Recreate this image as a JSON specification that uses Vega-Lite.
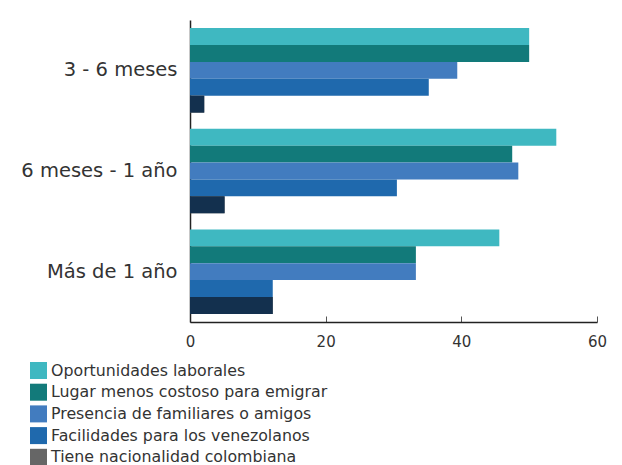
{
  "$schema": "https://vega.github.io/schema/vega-lite/v6.json",
  "autosize": {"type": "none"},
  "width": 407,
  "height": 302,
  "padding": {"left": 190, "top": 20, "right": 25, "bottom": 143},
  "background": "white",
  "config": {
    "font": "DejaVu Sans",
    "view": {"stroke": null}
  },
  "data": {
    "values": [
      {"periodo": "3 - 6 meses", "motivo": "Oportunidades laborales", "valor": 50.0},
      {"periodo": "3 - 6 meses", "motivo": "Lugar menos costoso para emigrar", "valor": 50.0},
      {"periodo": "3 - 6 meses", "motivo": "Presencia de familiares o amigos", "valor": 39.4},
      {"periodo": "3 - 6 meses", "motivo": "Facilidades para los venezolanos", "valor": 35.2},
      {"periodo": "3 - 6 meses", "motivo": "Tiene nacionalidad colombiana", "valor": 2.1},
      {"periodo": "6 meses - 1 año", "motivo": "Oportunidades laborales", "valor": 54.0},
      {"periodo": "6 meses - 1 año", "motivo": "Lugar menos costoso para emigrar", "valor": 47.5},
      {"periodo": "6 meses - 1 año", "motivo": "Presencia de familiares o amigos", "valor": 48.4},
      {"periodo": "6 meses - 1 año", "motivo": "Facilidades para los venezolanos", "valor": 30.5},
      {"periodo": "6 meses - 1 año", "motivo": "Tiene nacionalidad colombiana", "valor": 5.1},
      {"periodo": "Más de 1 año", "motivo": "Oportunidades laborales", "valor": 45.6},
      {"periodo": "Más de 1 año", "motivo": "Lugar menos costoso para emigrar", "valor": 33.3},
      {"periodo": "Más de 1 año", "motivo": "Presencia de familiares o amigos", "valor": 33.3},
      {"periodo": "Más de 1 año", "motivo": "Facilidades para los venezolanos", "valor": 12.2},
      {"periodo": "Más de 1 año", "motivo": "Tiene nacionalidad colombiana", "valor": 12.2}
    ]
  },
  "encoding": {
    "y": {
      "field": "periodo",
      "type": "nominal",
      "sort": ["3 - 6 meses", "6 meses - 1 año", "Más de 1 año"],
      "scale": {"paddingInner": 0.16, "paddingOuter": 0.08},
      "axis": {
        "title": null,
        "ticks": false,
        "labelFontSize": 19.5,
        "labelColor": "#333333",
        "labelPadding": 13,
        "domainColor": "#222222",
        "domainWidth": 1.5
      }
    },
    "yOffset": {
      "field": "motivo",
      "type": "nominal",
      "scale": {
        "domain": ["Oportunidades laborales", "Lugar menos costoso para emigrar", "Presencia de familiares o amigos", "Facilidades para los venezolanos", "Tiene nacionalidad colombiana"],
        "paddingInner": 0, "paddingOuter": 0
      }
    },
    "x": {
      "field": "valor",
      "type": "quantitative",
      "scale": {"domain": [0, 60], "nice": false},
      "axis": {
        "title": null,
        "values": [0, 20, 40, 60],
        "grid": false,
        "labelFontSize": 15,
        "labelColor": "#333333",
        "labelFlush": false,
        "domainColor": "#222222",
        "domainWidth": 1.5,
        "tickColor": "#555555",
        "tickSize": -6,
        "labelPadding": 18
      }
    }
  },
  "layer": [
    {
      "mark": {"type": "bar"},
      "encoding": {
        "color": {
          "field": "motivo",
          "type": "nominal",
          "scale": {
            "domain": ["Oportunidades laborales", "Lugar menos costoso para emigrar", "Presencia de familiares o amigos", "Facilidades para los venezolanos", "Tiene nacionalidad colombiana"],
            "range": ["#3fb8c1", "#127a7a", "#427cbf", "#1f69ad", "#666666"]
          },
          "legend": {
            "title": null,
            "orient": "none",
            "legendX": -160,
            "legendY": 342,
            "symbolType": "square",
            "symbolSize": 289,
            "symbolStrokeWidth": 0,
            "labelFontSize": 15.8,
            "labelColor": "#333333",
            "labelOffset": 4,
            "rowPadding": 4.7,
            "labelLimit": 400
          }
        }
      }
    },
    {
      "transform": [{"filter": "datum.motivo === 'Tiene nacionalidad colombiana'"}],
      "mark": {"type": "bar", "color": "#13304e"}
    }
  ]
}
